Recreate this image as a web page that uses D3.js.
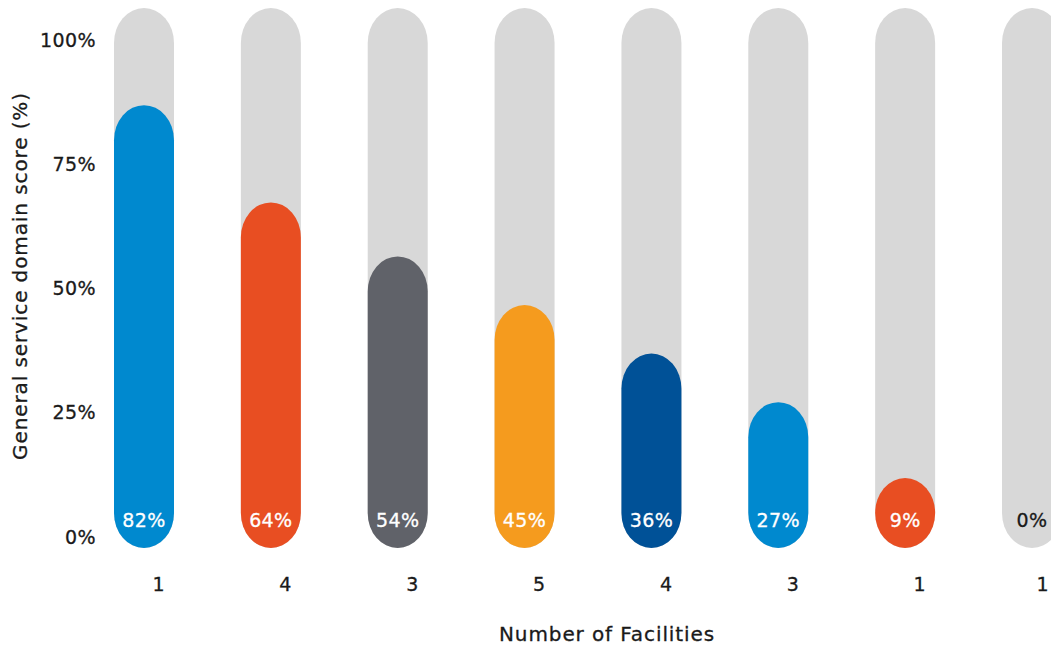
<!DOCTYPE html>
<html>
<head>
<meta charset="utf-8">
<script src="https://cdn.jsdelivr.net/npm/d3@7"></script>
<style>
  body { margin: 0; background: #fff; }
  svg { display: block; font-family: "DejaVu Sans", sans-serif; }
</style>
</head>
<body>
<svg id="chart" width="1051" height="649"></svg>
<script>
const categories = ["A", "B", "C", "D", "E", "F", "G", "H"];
const scores = [82, 64, 54, 45, 36, 27, 9, 0];
const facilities = [1, 4, 3, 5, 4, 3, 1, 1];
const barColors = ["#0089CF", "#E84E22", "#606269", "#F59B1E", "#005197", "#0089CF", "#E84E22", "#D8D8D8"];
const yTicks = [0, 25, 50, 75, 100];

const FONT = "DejaVu Sans, sans-serif";
const INK = "#1a1a1a";
const svg = d3.select("#chart");
const barW = 60, ry = 35;

const x = d3.scalePoint().domain(categories).range([144, 1032]);
const yBar = d3.scaleLinear().domain([0, 100]).range([548, 8]);
const yAxisScale = d3.scaleLinear().domain([0, 100]).range([537, 40]);

// background pills
svg.append("g").selectAll("rect").data(categories).join("rect")
  .attr("x", d => x(d) - barW / 2)
  .attr("y", yBar(100))
  .attr("width", barW)
  .attr("height", yBar(0) - yBar(100))
  .attr("rx", barW / 2).attr("ry", ry)
  .attr("fill", "#D8D8D8");

// value pills
svg.append("g").selectAll("rect").data(categories).join("rect")
  .filter((d, i) => scores[i] > 0)
  .attr("x", d => x(d) - barW / 2)
  .attr("y", (d, i) => yBar(0) - Math.max(yBar(0) - yBar(scores[i]), 2 * ry))
  .attr("width", barW)
  .attr("height", (d, i) => Math.max(yBar(0) - yBar(scores[i]), 2 * ry))
  .attr("rx", barW / 2).attr("ry", ry)
  .attr("fill", (d, i) => barColors[i]);

// value labels
svg.append("g").selectAll("text").data(categories).join("text")
  .attr("x", d => x(d))
  .attr("y", 520)
  .attr("dy", "0.35em")
  .attr("text-anchor", "middle")
  .attr("font-size", 19)
  .attr("letter-spacing", 0.4)
  .attr("fill", (d, i) => scores[i] > 0 ? "#fff" : INK)
  .attr("stroke", (d, i) => scores[i] > 0 ? "#fff" : INK)
  .attr("stroke-width", 0.3)
  .text((d, i) => scores[i] + "%");

// y axis labels
const yAxis = d3.axisLeft(yAxisScale).tickValues(yTicks).tickFormat(d => d + "%").tickSize(0).tickPadding(0);
const ga = svg.append("g").attr("transform", "translate(96,0)").call(yAxis);
ga.select(".domain").remove();
ga.selectAll("text").attr("font-size", 19).attr("fill", INK).attr("font-family", FONT)
  .attr("letter-spacing", 0.4).attr("stroke", INK).attr("stroke-width", 0.3);

// facility counts
const xAxis = d3.axisBottom(x).tickFormat((d, i) => facilities[i]).tickSize(0).tickPadding(0);
const gx = svg.append("g").attr("transform", "translate(14,577)").call(xAxis);
gx.select(".domain").remove();
gx.selectAll("text").attr("font-size", 19).attr("fill", INK).attr("font-family", FONT)
  .attr("stroke", INK).attr("stroke-width", 0.3)
  .attr("dx", (d, i) => i === categories.length - 1 ? -4 : 0);

// titles
svg.append("text")
  .attr("x", 607).attr("y", 634).attr("dy", "0.35em")
  .attr("text-anchor", "middle").attr("font-size", 20).attr("fill", INK)
  .attr("letter-spacing", 0.9).attr("stroke", INK).attr("stroke-width", 0.3)
  .text("Number of Facilities");

svg.append("text")
  .attr("transform", "translate(20,276) rotate(-90)")
  .attr("dy", "0.35em")
  .attr("text-anchor", "middle").attr("font-size", 20).attr("fill", INK)
  .attr("letter-spacing", 0.9).attr("stroke", INK).attr("stroke-width", 0.3)
  .text("General service domain score (%)");
</script>
</body>
</html>
